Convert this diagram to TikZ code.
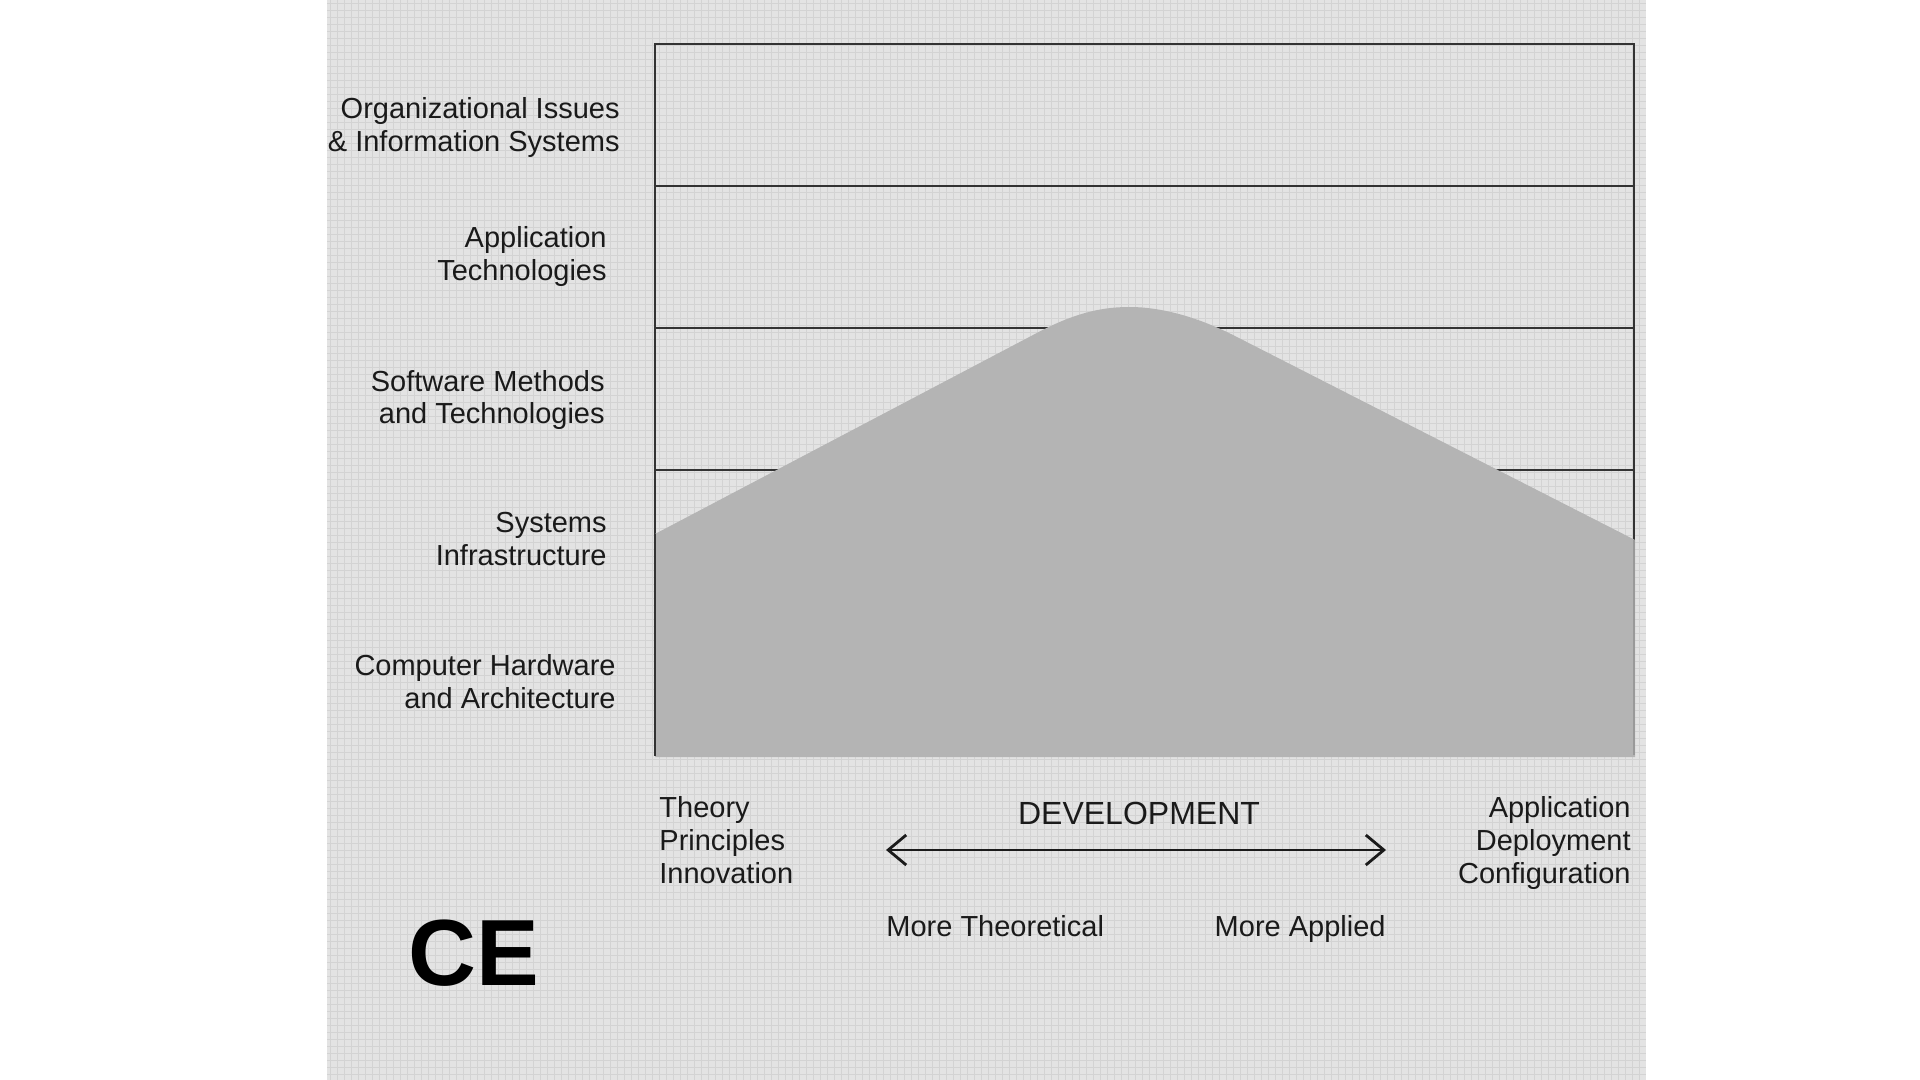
\documentclass[tikz,border=0pt]{standalone}
\usepackage{fontspec}
\setmainfont{Liberation Sans}
\usetikzlibrary{arrows.meta}
\definecolor{panel}{HTML}{E3E3E3}
\definecolor{gridc}{HTML}{D3D3D3}
\definecolor{frame}{HTML}{333333}
\definecolor{hill}{HTML}{B4B4B4}
\definecolor{ink}{HTML}{1A1A1A}
\begin{document}
\begin{tikzpicture}[x=0.5pt,y=-0.5pt,
  band/.style={draw=frame,line width=1.35pt},
  lbl/.style={inner sep=0pt,text=ink,font=\fontsize{14.5pt}{16.5pt}\selectfont},
  lblr/.style={lbl,anchor=east,align=right},
  lbll/.style={lbl,anchor=west,align=left}]
\useasboundingbox (0,0) rectangle (1920,1080);
\fill[white] (0,0) rectangle (1920,1080);
% graph-paper panel
\fill[panel] (327,0) rectangle (1646,1080);
\foreach \gx in {330,337,...,1645} \draw[gridc,line width=0.45pt] (\gx,0) -- (\gx,1080);
\foreach \gy in {3,10,...,1080} \draw[gridc,line width=0.45pt] (327,\gy) -- (1646,\gy);
% layer bands
\draw[band] (655,44) rectangle (1634,755);
\foreach \ly in {186,328,470,612} \draw[band] (655,\ly) -- (1634,\ly);
% development profile
\fill[hill] (655,757) -- (655,534) -- (1033,335)
  .. controls (1070,315) and (1098,307) .. (1129,307)
  .. controls (1160,307) and (1195,316) .. (1233,335)
  -- (1635,540) -- (1635,757) -- cycle;
\draw[frame,line width=1.35pt] (655,534) -- (655,756);
\draw[gray!80,line width=1.0pt] (1634,540) -- (1634,755);
% layer labels
\node[lblr] (org) at (620,128) {Organizational Issues\\\& Information Systems};
\node[lblr] (app) at (607,257) {Application\\Technologies};
\node[lblr] (sw)  at (605,400) {Software Methods\\and Technologies};
\node[lblr] (sys) at (607,539) {Systems\\Infrastructure};
\node[lblr] (hw)  at (616,682) {Computer Hardware\\and Architecture};
% axis
\node[lbll] (theory) at (659,840) {Theory\\Principles\\Innovation};
\node[lblr] (appl) at (1631,843) {Application\\Deployment\\Configuration};
\node[lbl,font=\fontsize{16pt}{18pt}\selectfont] (dev) at (1139,813) {DEVELOPMENT};
\coordinate (devL) at (886,850);
\coordinate (devR) at (1386,850);
\draw[ink,line width=1.4pt,{Straight Barb[length=9pt,width=15pt,line width=1.4pt]}-{Straight Barb[length=9pt,width=15pt,line width=1.4pt]}] (devL) -- (devR);
\node[lbl,anchor=base west] (theo) at (886,936) {More Theoretical};
\node[lbl,anchor=base east] (appd) at (1386,936) {More Applied};
\node[inner sep=0pt,text=black,font=\fontsize{47pt}{50pt}\selectfont\bfseries] (ce) at (474,953) {CE};
\end{tikzpicture}
\end{document}
